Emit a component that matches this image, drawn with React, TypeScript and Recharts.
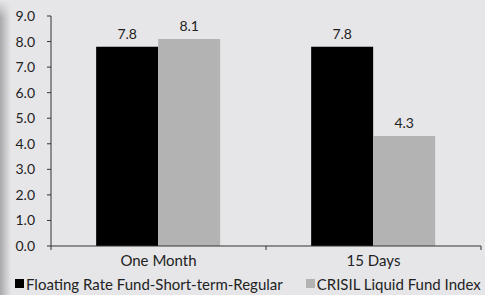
import React from 'react'
import {
  BarChart,
  Bar,
  XAxis,
  YAxis,
  Legend,
  LabelList,
} from 'recharts'

const categories = ['One Month', '15 Days']
const fundValues = [7.8, 7.8]
const indexValues = [8.1, 4.3]
const yTicks = [0, 1, 2, 3, 4, 5, 6, 7, 8, 9]
const seriesNames = ['Floating Rate Fund-Short-term-Regular', 'CRISIL Liquid Fund Index']

const data = categories.map((name, i) => ({
  name,
  fund: fundValues[i],
  index: indexValues[i],
}))

const W = 485
const H = 295
const MARGIN = { top: 16, right: 4, left: 0, bottom: 0 }
const Y_WIDTH = 51
const FONT = 'Lato, "Open Sans", sans-serif'
const BG = '#e6e6e8'
const AXIS = '#333333'
const TEXT = '#222222'

// half of one category band, used to put x ticks on the band edges
const HALF_BAND = (W - MARGIN.left - MARGIN.right - Y_WIDTH) / categories.length / 2

function xTick({ x, y, payload, index }: { x: number; y: number; payload: { value: string }; index: number }) {
  return (
    <g>
      {index === 0 && <line x1={x - HALF_BAND} x2={x - HALF_BAND} y1={y - 8} y2={y - 4} stroke={AXIS} />}
      <line x1={x + HALF_BAND} x2={x + HALF_BAND} y1={y - 8} y2={y - 4} stroke={AXIS} />
      <text x={x} y={y + 12} textAnchor="middle" fontSize={15} fill={TEXT} fontFamily={FONT}>
        {payload.value}
      </text>
    </g>
  )
}

function legendContent() {
  const colors = ['#000000', '#b3b3b3']
  return (
    <div style={{ display: 'flex', height: 23, alignItems: 'center', paddingLeft: 15, fontFamily: FONT, fontSize: 15, color: TEXT, whiteSpace: 'nowrap' }}>
      {seriesNames.map((n, i) => (
        <span key={n} style={{ display: 'inline-flex', alignItems: 'center', marginRight: 23 }}>
          <span style={{ width: 9, height: 9, background: colors[i], marginRight: 2, display: 'inline-block' }} />
          {n}
        </span>
      ))}
    </div>
  )
}

const App = () => {
  return (
    <div style={{ position: 'absolute', left: 0, top: 0, width: W, height: H, background: BG, overflow: 'hidden' }}>
      <div
        style={{
          position: 'absolute',
          left: 0,
          top: 0,
          width: 11,
          height: H,
          background: 'linear-gradient(to right, #a9a9ab, ' + BG + ')',
          WebkitMaskImage: 'linear-gradient(to bottom, transparent 0px, black 18px)',
        }}
      />
      <BarChart width={W} height={H} data={data} margin={MARGIN} barCategoryGap="21%" barGap={0}>
        <XAxis dataKey="name" stroke={AXIS} tickLine={false} tick={xTick} height={26} />
        <YAxis
          width={Y_WIDTH}
          domain={[0, 9]}
          ticks={yTicks}
          interval={0}
          stroke={AXIS}
          tickSize={4}
          tickMargin={12}
          tickFormatter={(v: number) => v.toFixed(1)}
          tick={{ fill: TEXT, fontSize: 14, fontFamily: FONT }}
        />
        <Legend verticalAlign="bottom" height={23} content={legendContent} />
        <Bar dataKey="fund" name={seriesNames[0]} fill="#000000" isAnimationActive={false}>
          <LabelList dataKey="fund" position="top" offset={8} formatter={(v: number) => v.toFixed(1)} fill={TEXT} fontSize={14} fontFamily={FONT} />
        </Bar>
        <Bar dataKey="index" name={seriesNames[1]} fill="#b3b3b3" isAnimationActive={false}>
          <LabelList dataKey="index" position="top" offset={8} formatter={(v: number) => v.toFixed(1)} fill={TEXT} fontSize={14} fontFamily={FONT} />
        </Bar>
      </BarChart>
    </div>
  )
}

export default App
